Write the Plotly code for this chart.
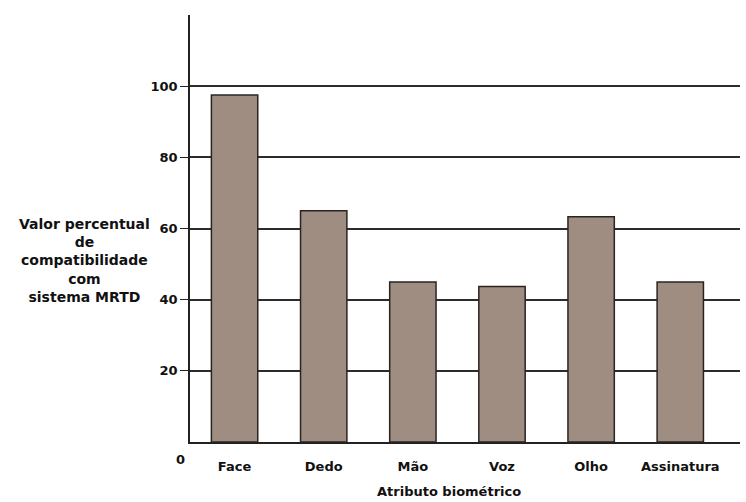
import plotly.graph_objects as go

categories = ["Face", "Dedo", "Mão", "Voz", "Olho", "Assinatura"]
values = [97.5, 65.0, 45.0, 43.7, 63.3, 45.0]
ytick_vals = [20, 40, 60, 80, 100]
ytick_text = ["<b>20</b>", "<b>40</b>", "<b>60</b>", "<b>80</b>", "<b>100</b>"]

font_family = "DejaVu Sans, Arial, sans-serif"

fig = go.Figure()
fig.add_trace(go.Bar(
    x=list(range(len(categories))),
    y=values,
    width=0.52,
    marker=dict(color="#9e8d80", line=dict(color="#2a2420", width=1.5)),
))

fig.update_layout(
    width=746, height=502,
    margin=dict(l=190, r=6, t=15, b=60),
    paper_bgcolor="white", plot_bgcolor="white",
    showlegend=False,
    font=dict(family=font_family, size=13, color="#111"),
    xaxis=dict(
        range=[-0.5, 5.67],
        tickvals=list(range(len(categories))),
        ticktext=["<b>%s</b>" % c for c in categories],
        showgrid=False, zeroline=False,
        showline=True, linecolor="#222", linewidth=1.5,
        ticks="", ticklen=0,
        ticklabelstandoff=12,
        tickfont=dict(size=13, family=font_family),
    ),
    yaxis=dict(
        range=[0, 120],
        tickvals=ytick_vals, ticktext=ytick_text,
        showgrid=True, gridcolor="#2b2b2b", gridwidth=1.5,
        zeroline=False,
        showline=True, linecolor="#222", linewidth=1.5,
        ticks="outside", ticklen=8, tickcolor="#222", tickwidth=1.2,
        tickfont=dict(size=13, family=font_family),
    ),
    annotations=[
        dict(text="<b>Valor percentual<br>de<br>compatibilidade<br>com<br>sistema MRTD</b>",
             xref="paper", yref="paper", x=-0.191, y=0.426, xanchor="center", yanchor="middle",
             showarrow=False, align="center", font=dict(size=14, family=font_family, color="#111")),
        dict(text="<b>Atributo biométrico</b>",
             xref="paper", yref="paper", x=0.47, y=-0.117, xanchor="center", yanchor="middle",
             showarrow=False, font=dict(size=13, family=font_family, color="#111")),
        dict(text="<b>0</b>",
             xref="paper", yref="paper", x=-0.018, y=-0.042, xanchor="center", yanchor="middle",
             showarrow=False, font=dict(size=13, family=font_family, color="#111")),
    ],
)

fig.write_html("out.html")
